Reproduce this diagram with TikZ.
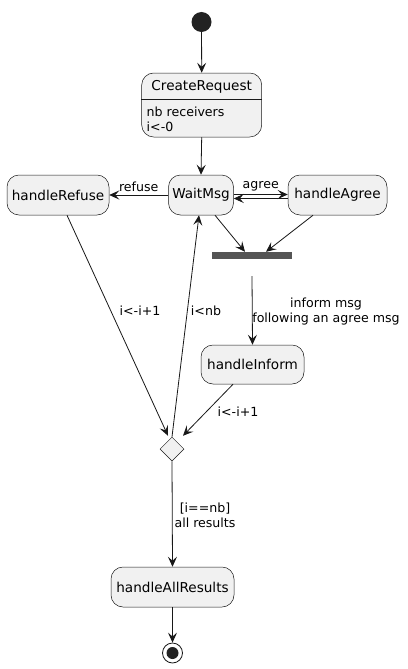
\documentclass[tikz,border=0pt]{standalone}
\usepackage{fontspec}
\setmainfont{DejaVu Sans}
\usetikzlibrary{arrows.meta,shapes.geometric}
\definecolor{boxfill}{HTML}{F1F1F1}
\definecolor{edge}{HTML}{181818}
\definecolor{barfill}{HTML}{555555}
\definecolor{startfill}{HTML}{222222}
\begin{document}
\begin{tikzpicture}[x=1pt,y=-1pt,
  state/.style={draw=edge, fill=boxfill, rounded corners=12pt, line width=0.5pt,
    minimum height=40pt, inner sep=0pt, font=\fontsize{13.6}{16}\selectfont},
  conn/.style={draw=edge, line width=0.8pt, -{Stealth[length=10pt,width=9pt,inset=4pt]}},
  lbl/.style={font=\fontsize{12.6}{15}\selectfont, text=black, inner sep=0pt, align=center}
]
\useasboundingbox[fill=white] (0,0) rectangle (407,669);

% nodes
\node[circle, fill=startfill, minimum size=20pt, inner sep=0pt] (start) at (201.5,22) {};
\node[state, minimum width=120pt, minimum height=64pt] (cr) at (201.7,105) {};
\node[font=\fontsize{13.6}{16}\selectfont, inner sep=0pt] (crtitle) at (201.7,87) {CreateRequest};
\draw[draw=edge, line width=0.5pt] ([yshift=-26pt]cr.north west) -- ([yshift=-26pt]cr.north east);
\node[lbl, anchor=west, align=left] (crbody) at (146.5,119) {nb receivers\\i<-0};

\node[state, minimum width=65pt] (wait) at (201,195) {WaitMsg};
\node[state, minimum width=102pt] (refuse) at (58,195) {handleRefuse};
\node[state, minimum width=99pt] (agree) at (337.5,195) {handleAgree};
\node[fill=barfill, minimum width=80pt, minimum height=7pt, inner sep=0pt] (bar) at (252,255.5) {};
\node[state, minimum width=103pt, minimum height=39pt] (inform) at (252.5,364.5) {handleInform};
\node[diamond, draw=edge, fill=boxfill, line width=0.5pt, minimum width=24pt, minimum height=24pt, inner sep=0pt] (dec) at (172,449) {};
\node[state, minimum width=123pt] (all) at (172.5,587) {handleAllResults};
\node[circle, draw=edge, fill=white, line width=0.8pt, minimum size=20pt, inner sep=0pt] (end) at (172.5,653) {};
\node[circle, fill=startfill, minimum size=12pt, inner sep=0pt] (endin) at (end.center) {};

% connectors
\draw[conn] (start) -- (cr.north);
\draw[conn] (cr.south) -- (wait.north);
\draw[conn] (wait.west) -- node[lbl, above=3pt] (lrefuse) {refuse} (refuse.east);
\draw[conn] ([yshift=0.5pt]wait.east) -- node[lbl, above=3pt] (lagree) {agree} ([yshift=0.5pt]agree.west);
\draw[conn] ([yshift=-3.5pt]agree.west) -- ([yshift=-3.5pt]wait.east);
\draw[conn] ([xshift=14pt]wait.south) -- ([xshift=-7pt]bar.north);
\draw[conn] ([xshift=-24.5pt]agree.south) -- ([xshift=14pt]bar.north);
\draw[conn] ([yshift=-17pt]bar.south) -- (inform.north);
\node[lbl] (linform) at (326,311.5) {inform msg\\following an agree msg};
\draw[conn] ([xshift=-19.5pt]inform.south) -- ([xshift=11pt,yshift=1pt]dec.north);
\node[lbl] (linc2) at (238,412) {i<-i+1};
\draw[conn] ([xshift=9pt]refuse.south) -- ([xshift=-4pt,yshift=1pt]dec.north);
\node[lbl] (linc1) at (140,311) {i<-i+1};
\draw[conn] (dec.north) -- ([xshift=-2pt]wait.south);
\node[lbl] (lnb) at (206,311) {i<nb};
\draw[conn] (dec.south) -- (all.north);
\node[lbl] (lall) at (205,515) {[i==nb]\\all results};
\draw[conn] (all.south) -- (end.north);
\end{tikzpicture}
\end{document}
